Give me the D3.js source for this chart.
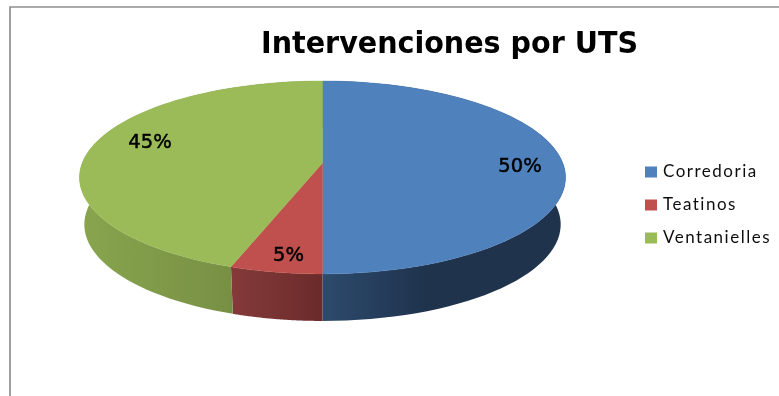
<!DOCTYPE html>
<html><head><meta charset="utf-8">
<script src="https://cdn.jsdelivr.net/npm/d3@7/dist/d3.min.js"></script>
<style>html,body{margin:0;padding:0;background:#fff}svg{display:block}</style>
</head><body>
<svg id="c" width="779" height="396"></svg>
<script>
const chartTitle = "Intervenciones por UTS";
const categories = ["Corredoria", "Teatinos", "Ventanielles"];
const values = [50, 5.3, 44.7];
const labels = ["50%", "5%", "45%"];
const topColors = ["#4f81bd", "#c0504d", "#9bbb59"];
const wallLeft = ["#2d4b6d", "#853a3a", "#88a54e"];
const wallRight = ["#1f334d", "#6a2b2a", "#6e833e"];
const wallStop = [0.42, 1, 1];

const svg = d3.select("#c");
const W = 779, H = 396;
svg.append("rect").attr("width", W).attr("height", H).attr("fill", "#fff");
const defs = svg.append("defs");
defs.append("filter").attr("id", "soft").append("feGaussianBlur").attr("stdDeviation", 0.35);
svg.append("path").attr("d", "M10,396V7H779").attr("fill", "none").attr("stroke", "#8f8f8f").attr("stroke-width", 1.7);

// Perspective projection of a tilted disc
const cx = 322.5, cy = 163, b = 240.3, a = 94.3, p = 0.15, depth = 47, lowScale = 0.98;
const proj = (t, r = 1) => {
  const u = Math.sin(t) * r, v = Math.cos(t) * r, w = 1 + p * v;
  return [cx + b * u / w, cy - a * v / w];
};
const projLow = t => {
  const [x, y] = proj(t);
  return [cx + (x - cx) * lowScale, y + depth];
};
const arcs = d3.pie().sort(null)(values);
const samples = (s, e) => d3.range(0, 73).map(i => s + (e - s) * i / 72);
const line = d3.line();

// Side walls
const g = svg.append("g");
arcs.forEach((d, i) => {
  const ts = samples(d.startAngle, d.endAngle);
  const upper = ts.map(t => proj(t));
  const lower = ts.map(t => projLow(t)).reverse();
  const xs = upper.concat(lower).map(q => q[0]);
  const id = "w" + i;
  const lg = defs.append("linearGradient").attr("id", id).attr("gradientUnits", "userSpaceOnUse")
    .attr("x1", d3.min(xs)).attr("x2", d3.max(xs)).attr("y1", 0).attr("y2", 0);
  lg.append("stop").attr("offset", 0).attr("stop-color", wallLeft[i]);
  lg.append("stop").attr("offset", wallStop[i]).attr("stop-color", wallRight[i]);
  g.append("path").attr("d", line(upper.concat(lower)) + "Z").attr("fill", `url(#${id})`);
});

// Top faces
arcs.forEach((d, i) => {
  const rim = samples(d.startAngle, d.endAngle).map(t => proj(t));
  g.append("path").attr("d", line([proj(0, 0)].concat(rim)) + "Z")
    .attr("fill", topColors[i]).attr("stroke", topColors[i]).attr("stroke-width", 0.4);
});

// Percent labels
const labelPos = [[520, 172], [288.5, 261], [150, 148]];
labels.forEach((t, i) => {
  svg.append("text").attr("x", labelPos[i][0]).attr("y", labelPos[i][1])
    .attr("text-anchor", "middle")
    .attr("font-family", "'DejaVu Sans'").attr("font-size", 19.5)
    .attr("stroke", "#000").attr("stroke-width", 0.5)
    .attr("filter", "url(#soft)")
    .attr("fill", "#000").text(t);
});

// Title
svg.append("text").attr("x", 449.5).attr("y", 53).attr("text-anchor", "middle")
  .attr("font-family", "'DejaVu Sans'").attr("font-weight", 700).attr("font-size", 30)
  .attr("textLength", 377).attr("lengthAdjust", "spacingAndGlyphs")
  .attr("filter", "url(#soft)")
  .attr("fill", "#000").text(chartTitle);

// Legend
const legY = d3.scalePoint().domain(categories).range([172, 238]);
categories.forEach((c, i) => {
  svg.append("rect").attr("x", 645).attr("y", legY(c) - 5.5).attr("width", 12).attr("height", 11).attr("fill", topColors[i]);
  svg.append("text").attr("x", 663).attr("y", legY(c) + 5)
    .attr("font-family", "Lato").attr("font-size", 17).attr("letter-spacing", 1.5)
    .attr("filter", "url(#soft)")
    .attr("fill", "#111").text(c);
});
</script>
</body></html>
